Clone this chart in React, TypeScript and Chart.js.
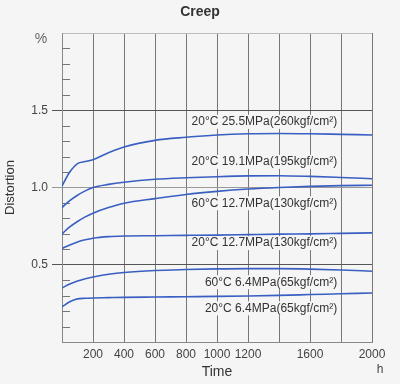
import React, { useEffect, useRef } from 'react';
import { Chart, registerables } from 'chart.js';

Chart.register(...registerables);

// ---- data ----
const timeHours = [0, 50, 100, 150, 200, 300, 400, 600, 800, 1000, 1200, 1400, 1600, 1800, 2000];
const s20c255 = [1.01, 1.10, 1.155, 1.168, 1.18, 1.225, 1.262, 1.305, 1.325, 1.34, 1.348, 1.35, 1.348, 1.344, 1.34];
const s20c191 = [0.87, 0.915, 0.95, 0.978, 1.0, 1.02, 1.034, 1.053, 1.063, 1.07, 1.075, 1.076, 1.072, 1.065, 1.057];
const s60c127 = [0.70, 0.745, 0.78, 0.81, 0.834, 0.87, 0.898, 0.928, 0.955, 0.975, 0.99, 1.0, 1.007, 1.012, 1.015];
const s20c127 = [0.605, 0.628, 0.648, 0.662, 0.672, 0.682, 0.686, 0.688, 0.69, 0.692, 0.695, 0.698, 0.70, 0.703, 0.706];
const s60c64 = [0.35, 0.375, 0.395, 0.41, 0.421, 0.438, 0.45, 0.463, 0.469, 0.473, 0.475, 0.475, 0.472, 0.466, 0.458];
const s20c64 = [0.228, 0.26, 0.279, 0.283, 0.285, 0.287, 0.289, 0.291, 0.293, 0.295, 0.298, 0.302, 0.307, 0.312, 0.317];

const seriesNames = [
  '20°C 25.5MPa(260kgf/cm²)',
  '20°C 19.1MPa(195kgf/cm²)',
  '60°C 12.7MPa(130kgf/cm²)',
  '20°C 12.7MPa(130kgf/cm²)',
  '60°C 6.4MPa(65kgf/cm²)',
  '20°C 6.4MPa(65kgf/cm²)',
];
const seriesValues = [s20c255, s20c191, s60c127, s20c127, s60c64, s20c64];
// annotation anchors (label right edge time, label centre value)
const labelAnchorTime = 1775;
const labelAnchorValues = [1.425, 1.166, 0.898, 0.64, 0.387, 0.218];

const xTickLabels = [200, 400, 600, 800, 1000, 1200, 1600, 2000];
const yTickLabels = [0.5, 1.0, 1.5];

const BG = '#f5f5f5';
const LINE = '#3a5fc2';

export default function App() {
  const ref = useRef<HTMLCanvasElement | null>(null);

  useEffect(() => {
    if (!ref.current) return;
    Chart.defaults.font.family = "'Liberation Sans', Arial, sans-serif";

    const decor = {
      id: 'decor',
      beforeDatasetsDraw(chart: any) {
        const { ctx, chartArea, scales } = chart;
        const y = scales.y;
        ctx.save();
        ctx.strokeStyle = '#777';
        ctx.lineWidth = 1;
        y.ticks.forEach((t: any) => {
          const k = Math.round(t.value * 10);
          if (k % 5 === 0) return;
          const py = Math.round(y.getPixelForValue(t.value)) + 0.5;
          ctx.beginPath();
          ctx.moveTo(chartArea.left, py);
          ctx.lineTo(chartArea.left + 8, py);
          ctx.stroke();
        });
        ctx.restore();
      },
      afterDatasetsDraw(chart: any) {
        const { ctx, scales } = chart;
        const x = scales.x;
        const y = scales.y;
        ctx.save();
        ctx.font = "12px 'Liberation Sans', Arial, sans-serif";
        ctx.textAlign = 'right';
        ctx.textBaseline = 'middle';
        seriesNames.forEach((name, i) => {
          const px = x.getPixelForValue(labelAnchorTime);
          const py = y.getPixelForValue(labelAnchorValues[i]);
          const w = ctx.measureText(name).width;
          ctx.fillStyle = BG;
          ctx.fillRect(px - w - 3, py - 7, w + 5, 14);
          ctx.fillStyle = '#333';
          ctx.fillText(name, px, py);
        });
        ctx.restore();
      },
      afterDraw(chart: any) {
        const { ctx } = chart;
        ctx.save();
        ctx.fillStyle = '#666';
        ctx.font = "14px 'Liberation Sans', Arial, sans-serif";
        ctx.textAlign = 'center';
        ctx.textBaseline = 'middle';
        ctx.fillText('%', 41, 39);
        ctx.fillStyle = '#444';
        ctx.font = "12px 'Liberation Sans', Arial, sans-serif";
        ctx.fillText('h', 380, 370);
        ctx.restore();
      },
    };

    const chart = new Chart(ref.current, {
      type: 'line',
      data: {
        datasets: seriesValues.map((vals, i) => ({
          label: seriesNames[i],
          data: timeHours.map((t, j) => ({ x: t, y: vals[j] })),
          borderColor: LINE,
          borderWidth: 1.6,
          pointRadius: 0,
          fill: false,
          cubicInterpolationMode: 'monotone' as const,
        })),
      },
      options: {
        animation: false,
        responsive: false,
        devicePixelRatio: 1,
        layout: { padding: 0 },
        plugins: {
          legend: { display: false },
          tooltip: { enabled: false },
          title: {
            display: true,
            text: 'Creep',
            color: '#333',
            font: { size: 14, weight: 'bold' },
            padding: { top: 4, bottom: 12.2 },
          },
        },
        scales: {
          x: {
            type: 'linear',
            min: 0,
            max: 2000,
            afterFit: (s: any) => { s.height = 42; s.paddingRight = 28; },
            ticks: {
              stepSize: 200,
              autoSkip: false,
              maxRotation: 0,
              padding: 5,
              color: '#444',
              font: { size: 12 },
              callback: (v: any) => (xTickLabels.includes(Math.round(Number(v))) ? String(Math.round(Number(v))) : ''),
            },
            grid: { color: '#777', lineWidth: 1, drawTicks: false },
            border: { display: true, color: '#888', width: 1 },
            title: {
              display: true,
              text: 'Time',
              color: '#333',
              font: { size: 14 },
              padding: { top: 0, bottom: 3.6 },
            },
          },
          y: {
            type: 'linear',
            min: 0,
            max: 2,
            afterFit: (s: any) => { s.width = 62; },
            ticks: {
              stepSize: 0.1,
              autoSkip: false,
              padding: 4,
              color: '#444',
              font: { size: 12 },
              callback: (v: any) => {
                const k = Math.round(Number(v) * 10);
                return yTickLabels.some((l) => Math.round(l * 10) === k) ? (k / 10).toFixed(1) : '';
              },
            },
            grid: {
              lineWidth: 1,
              tickLength: 10,
              color: (c: any) => {
                const k = Math.round(c.tick.value * 10);
                if (k === 20) return '#bbb';
                if (k === 0) return '#888';
                if (k === 10) return '#999';
                return k % 5 === 0 ? '#555' : 'rgba(0,0,0,0)';
              },
              tickColor: (c: any) => {
                const k = Math.round(c.tick.value * 10);
                if (k === 10) return '#999';
                return k % 5 === 0 && k > 0 && k < 20 ? '#555' : 'rgba(0,0,0,0)';
              },
            },
            border: { display: true, color: '#888', width: 1 },
            title: {
              display: true,
              text: 'Distortion',
              color: '#333',
              font: { size: 13 },
              padding: { top: 3, bottom: 0 },
            },
          },
        },
      },
      plugins: [decor],
    } as any);

    return () => chart.destroy();
  }, []);

  return (
    <div style={{ position: 'fixed', left: 0, top: 0, width: 400, height: 384, background: BG }}>
      <canvas ref={ref} width={400} height={384} style={{ display: 'block' }} />
    </div>
  );
}
